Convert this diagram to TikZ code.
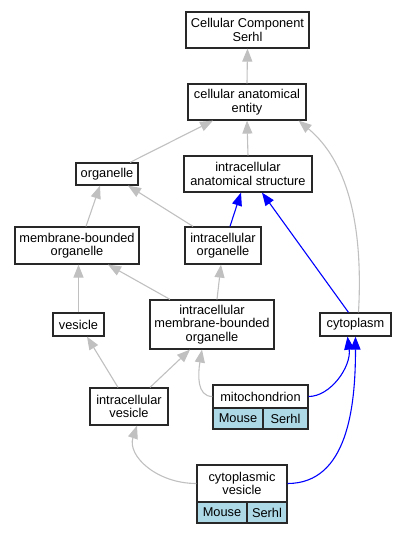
\documentclass[tikz,border=0pt]{standalone}
\usepackage{fontspec}
\setmainfont{Liberation Sans}
\usetikzlibrary{arrows.meta,calc}
\definecolor{edgegray}{RGB}{192,192,192}
\definecolor{cellblue}{RGB}{173,216,230}
\definecolor{borderc}{RGB}{40,40,40}
\begin{document}
\begin{tikzpicture}[x=1pt,y=-1pt,
  box/.style={draw=borderc,line width=1.2pt,inner sep=0pt,align=center,
    font=\fontsize{12.8}{13.6}\selectfont},
  cell/.style={box,fill=cellblue},
  gedge/.style={draw=edgegray,line width=1.1pt,-{Triangle[length=13pt,width=10pt]}},
  bedge/.style={draw=blue,line width=1.1pt,-{Triangle[length=13pt,width=10pt]}}]
\useasboundingbox (0,0) rectangle (405,533);
% nodes
\node[box,minimum width=123pt,minimum height=36pt] (cc) at (247.5,30) {Cellular Component\\Serhl};
\node[box,minimum width=118pt,minimum height=36pt] (cae) at (247,102) {cellular anatomical\\entity};
\node[box,minimum width=62pt,minimum height=22pt] (org) at (107,174) {organelle};
\node[box,minimum width=128pt,minimum height=36pt] (ias) at (248,174) {intracellular\\anatomical structure};
\node[box,minimum width=124pt,minimum height=37pt] (mbo) at (77,245.5) {membrane-bounded\\organelle};
\node[box,minimum width=76pt,minimum height=37pt] (io) at (223,245.5) {intracellular\\organelle};
\node[box,minimum width=51pt,minimum height=23pt] (ves) at (78.5,324.5) {vesicle};
\node[box,minimum width=124pt,minimum height=49pt] (imbo) at (212,324.5) {intracellular\\membrane-bounded\\organelle};
\node[box,minimum width=71pt,minimum height=23pt] (cyto) at (355.5,324.5) {cytoplasm};
\node[box,minimum width=78pt,minimum height=37pt] (ivs) at (129,406.5) {intracellular\\vesicle};
% mitochondrion
\node[box,minimum width=95pt,minimum height=23pt] (mito) at (260.5,396.5) {mitochondrion};
\node[cell,minimum width=50pt,minimum height=21pt] (mitoa) at (238,418.5) {Mouse};
\node[cell,minimum width=45pt,minimum height=21pt] (mitob) at (285.5,418.5) {Serhl};
% cytoplasmic vesicle
\node[box,minimum width=90pt,minimum height=37pt] (cv) at (242,483.5) {cytoplasmic\\vesicle};
\node[cell,minimum width=50pt,minimum height=21pt] (cva) at (222,512.5) {Mouse};
\node[cell,minimum width=40pt,minimum height=21pt] (cvb) at (267,512.5) {Serhl};
% edges
\draw[gedge] (cae.north) -- (cc.south);
\draw[gedge] ($(org.north)+(23,0)$) -- ($(cae.south)+(-34,0)$);
\draw[gedge] (ias.north) -- (cae.south);
\draw[gedge] ($(cyto.north)+(3,0)$) .. controls ($(cyto.north)+(8,-90)$) and ($(cae.south east)+(40,40)$) .. ($(cae.south east)+(-8,0)$);
\draw[gedge] ($(mbo.north)+(9,0)$) -- ($(org.south)+(-7,0)$);
\draw[gedge] ($(io.north)+(-30,0)$) -- ($(org.south)+(21,0)$);
\draw[bedge] ($(io.north)+(7,0)$) -- ($(ias.south)+(-7,0)$);
\draw[bedge] ($(cyto.north)+(-7,0)$) -- ($(ias.south)+(14,0)$);
\draw[gedge] (ves.north) -- ($(mbo.south)+(1.5,0)$);
\draw[gedge] ($(imbo.north)+(-42,0)$) -- ($(mbo.south)+(31,0)$);
\draw[gedge] ($(imbo.north)+(5,0)$) -- ($(io.south)+(-2,0)$);
\draw[gedge] ($(ivs.north)+(-11,0)$) -- ($(ves.south)+(8.5,0)$);
\draw[gedge] ($(ivs.north)+(21,0)$) -- ($(imbo.south)+(-22,0)$);
\draw[gedge] (mito.west) .. controls ($(mito.west)+(-16,0)$) and ($(imbo.south)+(-14,24)$) .. ($(imbo.south)+(-10,0)$);
\draw[bedge] (mito.east) .. controls ($(mito.east)+(22,0)$) and ($(cyto.south)+(-4,30)$) .. ($(cyto.south)+(-8,0)$);
\draw[gedge] (cv.west) .. controls ($(cv.west)+(-40,0)$) and ($(ivs.south)+(-2,30)$) .. ($(ivs.south)+(8,0)$);
\draw[bedge] (cv.east) .. controls ($(cv.east)+(60,0)$) and ($(cyto.south)+(0,70)$) .. (cyto.south);
\end{tikzpicture}
\end{document}
